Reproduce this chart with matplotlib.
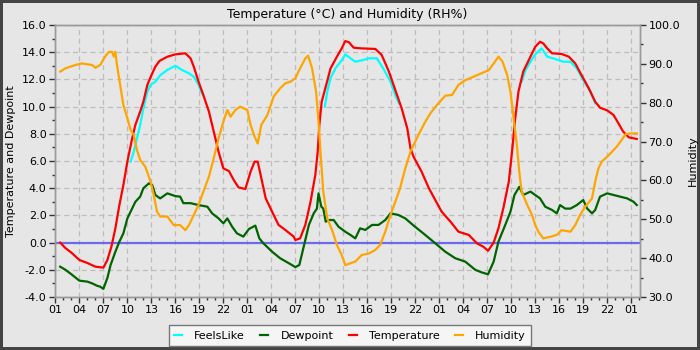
import matplotlib
matplotlib.use("Agg")
import matplotlib.pyplot as plt
import numpy as np

# hours since 01:00 on day 1
temp_h = [0.6, 1.25, 2, 3, 4, 5, 6, 6.5, 7, 7.5, 8, 8.5, 9, 9.6, 10, 10.6, 11, 11.5, 12, 12.5, 13, 14, 15,
          16.25, 16.9, 17.3, 17.9, 18.5, 19.2, 19.8, 20.4, 21, 21.7, 22.3, 22.9, 23.75, 24.4, 24.9, 25.3, 25.75,
          26.3, 27.1, 27.9, 28.75, 29.8, 30, 30.6, 31.25, 31.9, 32.5, 32.8, 33, 33.3, 33.75, 34.4, 35.2, 35.8,
          36.25, 36.7, 37.3, 38.3, 40, 40.8, 41.7, 42.5, 43.3, 44, 44.4, 44.8, 45.8, 46.7, 47.5, 48.3, 49.4,
          50.4, 51.7, 52.7, 53.5, 54.1, 54.8, 55.4, 56, 56.7, 57.1, 57.5, 57.9, 58.5, 59.4, 60, 60.6, 61, 61.5,
          62.1, 63.3, 64.2, 65, 65.8, 66.7, 67.5, 68.1, 69, 69.8, 70.4, 71, 71.7, 72.7]
temperature = [0.0, -0.4, -0.74, -1.28, -1.5, -1.77, -1.84, -1.28, -0.3, 1.05, 2.76, 4.24, 5.95, 7.67, 8.65,
               9.63, 10.36, 11.6, 12.3, 12.94, 13.35, 13.67, 13.84, 13.92, 13.55, 12.94, 11.83, 10.85, 9.63,
               8.16, 6.69, 5.46, 5.26, 4.6, 4.06, 3.94, 5.2, 5.95, 5.95, 4.73, 3.25, 2.27, 1.3, 0.93, 0.44, 0.19,
               0.31, 1.3, 3.0, 4.97, 6.7, 8.65, 10.36, 11.34, 12.8, 13.67, 14.28, 14.82, 14.73, 14.33, 14.28,
               14.24, 13.8, 12.57, 11.22, 9.87, 8.4, 6.93, 6.3, 5.2, 4.0, 3.13, 2.27, 1.54, 0.8, 0.56, -0.05,
               -0.3, -0.6, 0.0, 1.05, 2.5, 4.5, 6.7, 9.14, 11.1, 12.57, 13.67, 14.4, 14.77, 14.65, 14.28, 13.92,
               13.87, 13.67, 13.18, 12.3, 11.34, 10.36, 9.92, 9.72, 9.38, 8.77, 8.16, 7.74, 7.62]

feels_h = [9.4, 9.8, 10.2, 10.6, 11, 11.5, 11.9, 12.5, 13.1, 14, 14.8, 15, 15.8, 16.7, 17.3, 17.9, 18.3, 18.5,
           None,
           33.7, 34, 34.4, 35, 35.8, 36.25, 36.9, 37.5, 38.3, 39.2, 40.2, 41, 41.9, 42.5, 43.0,
           None,
           58.3, 58.8, 59.4, 60, 60.8, 61.5, 62.5, 63.5, 64.4, 65.2, 66, 66.9, 67.5]
feelslike = [5.95, 6.69, 7.67, 8.65, 9.87, 11.1, 11.6, 11.83, 12.3, 12.7, 12.94, 13.0, 12.7, 12.45, 12.2, 11.6,
             11.0, 10.85,
             None,
             10.0, 11.1, 12.1, 12.8, 13.4, 13.84, 13.55, 13.3, 13.4, 13.55, 13.55, 12.8, 11.83, 10.85, 10.2,
             None,
             11.83, 12.7, 13.3, 13.84, 14.28, 13.67, 13.5, 13.3, 13.3, 12.8, 11.96, 11.1, 10.24]

dew_h = [0.6, 1.25, 2, 3, 4, 4.6, 5.2, 5.6, 6, 6.5, 6.9, 7.5, 8, 8.5, 9, 9.4, 10, 10.6, 11, 11.7, 12.1, 12.5,
         13.1, 14, 15, 15.6, 16, 16.9, 17.9, 19, 19.6, 20.4, 21, 21.5, 22.1, 22.7, 23.5, 24.2, 25, 25.5, 26,
         27.1, 28.1, 29.2, 30, 30.5, 31, 31.7, 32.3, 32.7, 32.9, 33.25, 33.5, 33.8, 34.2, 34.8, 35.4, 36.25,
         36.9, 37.5, 38.1, 38.75, 39.6, 40.4, 41.25, 41.9, 42.9, 43.75, 44.8, 46.25, 47.5, 48.75, 50, 51.25,
         52.5, 53.3, 54.1, 54.8, 55.4, 56.25, 56.9, 57.4, 58, 58.5, 59.4, 60, 60.6, 61.25, 62.1, 62.7, 63.1,
         63.75, 64.4, 65.2, 66, 66.5, 67.1, 67.5, 68.1, 69, 69.8, 70.6, 71.5, 72.3, 72.7]
dewpoint = [-1.77, -2.0, -2.33, -2.8, -2.87, -3.0, -3.17, -3.24, -3.4, -2.6, -1.65, -0.67, 0.07, 0.68, 1.78,
            2.27, 3.0, 3.38, 4.0, 4.36, 4.24, 3.5, 3.25, 3.62, 3.42, 3.38, 2.9, 2.9, 2.76, 2.64, 2.15, 1.78,
            1.42, 1.78, 1.17, 0.68, 0.44, 1.0, 1.25, 0.31, -0.05, -0.67, -1.15, -1.52, -1.8, -1.65, -0.42,
            1.3, 2.15, 2.5, 3.62, 2.64, 2.5, 1.54, 1.66, 1.66, 1.17, 0.8, 0.56, 0.31, 1.05, 0.93, 1.3, 1.3,
            1.66, 2.15, 2.03, 1.78, 1.25, 0.56, -0.05, -0.67, -1.15, -1.4, -2.0, -2.19, -2.33, -1.4, 0.07,
            1.3, 2.27, 3.5, 4.1, 3.5, 3.75, 3.5, 3.25, 2.64, 2.4, 2.15, 2.76, 2.5, 2.5, 2.76, 3.13, 2.5, 2.15,
            2.4, 3.38, 3.62, 3.5, 3.38, 3.25, 3.0, 2.76]

hum_h = [0.6, 1.25, 2.5, 3.3, 4.6, 5, 5.6, 6.2, 6.7, 7.1, 7.3, 7.5, 7.7, 8.1, 8.5, 9, 9.4, 9.8, 10.2, 10.6,
         11.25, 11.9, 12.3, 12.7, 13.1, 14, 14.8, 15.6, 16.25, 16.7, 17.3, 17.9, 18.5, 19.2, 19.8, 20.4, 21,
         21.5, 21.9, 22.5, 23.1, 24, 24.4, 24.9, 25.3, 25.75, 26.5, 27.3, 28.1, 28.75, 29.4, 30, 30.6, 31.25,
         31.6, 32.1, 32.6, 32.9, 33.2, 33.5, 34, 34.6, 35.2, 35.8, 36.25, 36.9, 37.5, 38.3, 39.2, 40, 40.6,
         41.25, 41.9, 42.5, 43.1, 43.75, 44.4, 45, 45.6, 46.25, 46.9, 47.7, 48.75, 49.6, 50.4, 51.25, 52.3,
         53.3, 54.2, 54.8, 55.4, 55.9, 56.5, 56.9, 57.3, 57.7, 58, 58.3, 59, 59.6, 60, 60.4, 61, 61.9, 62.7,
         63.3, 64.4, 65, 65.6, 66.25, 67.1, 67.5, 67.9, 68.3, 69, 69.6, 70.2, 70.8, 71.3, 72, 72.7]
humidity = [88.0, 88.85, 89.7, 90.1, 89.7, 89.0, 89.7, 91.85, 93.1, 93.1, 91.85, 93.1, 89.7, 84.6, 79.4, 76.0,
            73.0, 71.7, 67.8, 65.3, 63.5, 59.7, 56.25, 52.0, 50.7, 50.7, 48.5, 48.5, 47.2, 48.5, 51.1, 53.7,
            57.1, 61.0, 65.7, 70.8, 75.1, 78.1, 76.4, 78.1, 79.0, 78.1, 74.3, 71.3, 69.5, 74.3, 76.8, 81.6,
            83.7, 85.0, 85.4, 86.3, 88.85, 91.4, 92.1, 88.85, 82.8, 75.1, 65.7, 57.1, 50.2, 47.2, 43.4, 40.8,
            38.2, 38.7, 39.1, 40.8, 41.2, 42.1, 43.4, 46.8, 51.1, 54.5, 58.0, 63.1, 67.4, 70.0, 72.55, 75.1,
            77.3, 79.4, 81.8, 82.0, 84.6, 85.8, 86.7, 87.6, 88.4, 90.1, 91.85, 90.6, 87.1, 82.8, 76.0, 69.1,
            62.3, 57.1, 53.7, 51.1, 48.5, 46.8, 45.1, 45.5, 46.0, 47.2, 46.8, 48.5, 51.1, 53.2, 55.4, 59.7,
            63.1, 64.8, 66.1, 67.4, 68.7, 70.4, 71.9, 72.1, 72.1]

tick_hours = list(range(0, 73, 3))
tick_labels = ["01", "04", "07", "10", "13", "16", "19", "22"] * 3 + ["01"]

bg = "#e6e6e6"
fig = plt.figure(figsize=(7, 3.5), dpi=100, facecolor=bg)
fig.patch.set_edgecolor("#444444")
fig.patch.set_linewidth(4)
ax = fig.add_axes([55 / 700, 1 - 297 / 350, 585 / 700, 272 / 350])
ax.set_facecolor(bg)
ax2 = ax.twinx()

def arr(v):
    return np.array([np.nan if x is None else x for x in v], dtype=float)

lw = 1.6
l1, = ax.plot(arr(feels_h), arr(feelslike), color="#00ffff", lw=lw, label="FeelsLike", zorder=3)
l2, = ax.plot(dew_h, dewpoint, color="#006400", lw=lw, label="Dewpoint", zorder=3)
l3, = ax.plot(temp_h, temperature, color="#ff0000", lw=lw, label="Temperature", zorder=4)
ax.axhline(0, color="#6a6af0", lw=1.6, zorder=2)
l4, = ax2.plot(hum_h, humidity, color="#ffa500", lw=lw, label="Humidity")

ax.set_xlim(-0.05, 73.1)
ax.set_ylim(-4, 16)
ax2.set_ylim(30, 100)

ax.set_xticks(tick_hours)
ax.set_xticklabels(tick_labels)
ax.set_xticks(np.arange(0, 74, 1), minor=True)
ax.set_yticks(np.arange(-4, 17, 2))
ax.set_yticklabels([f"{v:.1f}" for v in np.arange(-4, 17, 2)])
ax.set_yticks(np.arange(-4, 17, 1), minor=True)
ax2.set_yticks(np.arange(30, 101, 10))
ax2.set_yticklabels([f"{v:.1f}" for v in np.arange(30, 101, 10)])
ax2.set_yticks(np.arange(30, 101, 5), minor=True)

for a in (ax, ax2):
    a.tick_params(which="major", length=4, width=1, color="#333333", labelsize=8, pad=2)
    a.tick_params(which="minor", length=2.5, width=1, color="#333333")
    for s in a.spines.values():
        s.set_color("#999999")
        s.set_linewidth(1)

ax.grid(True, which="major", color="#bdbdbd", linestyle=(0, (4, 3)), lw=0.9)
ax.set_axisbelow(True)

ax.set_title("Temperature (°C) and Humidity (RH%)", fontsize=9, pad=5)
ax.set_ylabel("Temperature and Dewpoint", fontsize=8, labelpad=4)
ax2.set_ylabel("Humidity", fontsize=8, labelpad=6)

leg = fig.legend([l1, l2, l3, l4], ["FeelsLike", "Dewpoint", "Temperature", "Humidity"],
                 loc="lower center", bbox_to_anchor=(0.5, -0.005), ncol=4, fontsize=8,
                 handlelength=0.7, columnspacing=1.4, frameon=True, fancybox=False,
                 borderpad=0.5, handletextpad=1.1)
leg.get_frame().set_facecolor("#f5f5f5")
leg.get_frame().set_edgecolor("#777777")
leg.get_frame().set_alpha(1)

fig.savefig("out.png", dpi=100, facecolor=bg, edgecolor=fig.patch.get_edgecolor())
